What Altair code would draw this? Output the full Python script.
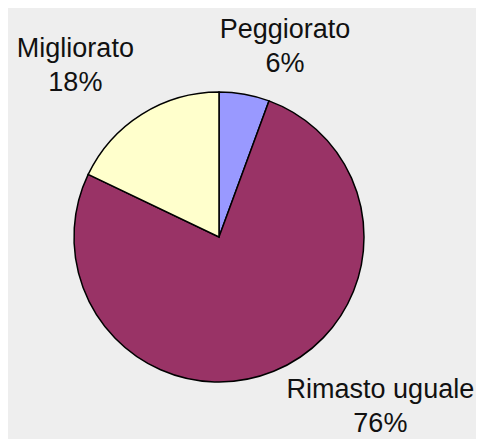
import math
import altair as alt
import pandas as pd

categories = ["Peggiorato", "Rimasto uguale", "Migliorato"]
values = [5.6, 76.5, 17.9]
pct_labels = ["6%", "76%", "18%"]
colors = ["#9999ff", "#993366", "#ffffcc"]

df = pd.DataFrame({
    "cat": categories,
    "value": values,
    "pct": pct_labels,
    "idx": list(range(len(categories))),
})

CX, CY, R = 211, 229, 145
FONT = "Liberation Sans"

base = alt.Chart(df)

pie = base.mark_arc(outerRadius=R, stroke="black", strokeWidth=1.5).encode(
    theta=alt.Theta("value:Q", stack=True),
    color=alt.Color("cat:N", scale=alt.Scale(domain=categories, range=colors), legend=None),
    order=alt.Order("idx:Q"),
    x=alt.value(CX),
    y=alt.value(CY),
)

lab_base = base.transform_window(
    cum="sum(value)", sort=[alt.SortField("idx")], frame=[None, 0]
).transform_calculate(
    mid="datum.cum - datum.value / 2",
    label="datum.cat + '\\n' + datum.pct",
)

offsets = {
    "Peggiorato": (31, -10),
    "Rimasto uguale": (86, -32),
    "Migliorato": (-37, -19),
}

layers = [pie]
for c in categories:
    dx, dy = offsets[c]
    layers.append(
        lab_base.transform_filter(alt.datum.cat == c).mark_text(
            radius=200, dx=dx, dy=dy, fontSize=27, font=FONT, lineBreak="\n",
            lineHeight=34, align="center", baseline="middle", color="#111111",
        ).encode(
            theta=alt.Theta("mid:Q", stack=False,
                            scale=alt.Scale(domain=[0, 100], range=[0, 2 * math.pi])),
            text="label:N",
            x=alt.value(CX),
            y=alt.value(CY),
        )
    )

chart = alt.layer(*layers).properties(
    width=468, height=431, autosize=alt.AutoSizeParams(type="none"), padding=0,
    background="#eeeeee",
).configure_view(stroke=None)

chart.save("out.html", embed_options={"renderer": "svg", "actions": False})
